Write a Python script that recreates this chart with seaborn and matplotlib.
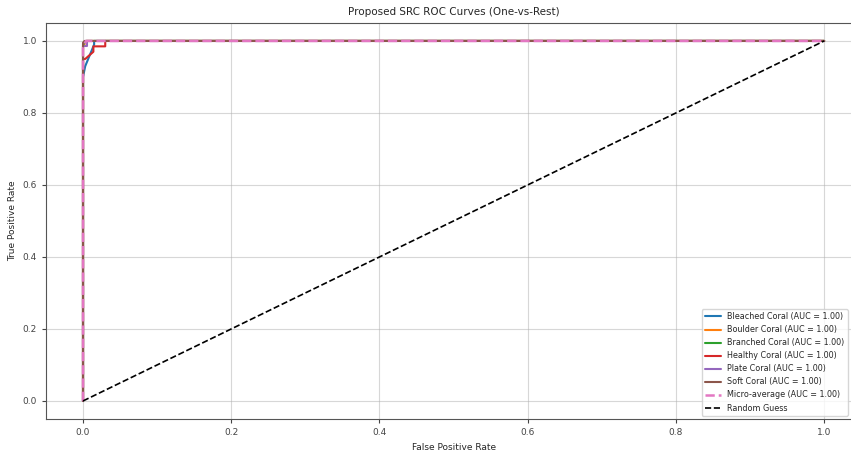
import seaborn as sns
import matplotlib.pyplot as plt
import pandas as pd

# class names and read-off roc points (fpr, tpr)
classes = ["Bleached Coral", "Boulder Coral", "Branched Coral",
           "Healthy Coral", "Plate Coral", "Soft Coral"]
auc_vals = [1.00, 1.00, 1.00, 1.00, 1.00, 1.00]

fpr_bleached = [0.0, 0.0, 0.003, 0.015, 0.015, 1.0]
tpr_bleached = [0.0, 0.90, 0.93, 0.99, 1.0, 1.0]
fpr_boulder = [0.0, 0.0, 0.005, 1.0]
tpr_boulder = [0.0, 0.985, 1.0, 1.0]
fpr_branched = [0.0, 0.0, 0.004, 1.0]
tpr_branched = [0.0, 0.99, 1.0, 1.0]
fpr_healthy = [0.0, 0.0, 0.003, 0.014, 0.014, 0.03, 0.03, 1.0]
tpr_healthy = [0.0, 0.95, 0.95, 0.97, 0.985, 0.985, 1.0, 1.0]
fpr_plate = [0.0, 0.0, 0.006, 0.006, 1.0]
tpr_plate = [0.0, 0.985, 0.985, 1.0, 1.0]
fpr_soft = [0.0, 0.0, 0.002, 1.0]
tpr_soft = [0.0, 0.995, 1.0, 1.0]
fpr_micro = [0.0, 0.0, 0.004, 1.0]
tpr_micro = [0.0, 0.98, 1.0, 1.0]
auc_micro = 1.00

fprs = [fpr_bleached, fpr_boulder, fpr_branched, fpr_healthy, fpr_plate, fpr_soft]
tprs = [tpr_bleached, tpr_boulder, tpr_branched, tpr_healthy, tpr_plate, tpr_soft]

rows = []
for c, a, f, t in zip(classes, auc_vals, fprs, tprs):
    lab = f"{c} (AUC = {a:.2f})"
    for i in range(len(f)):
        rows.append({"fpr": f[i], "tpr": t[i], "curve": lab})
roc = pd.DataFrame(rows)

sns.set_style("ticks")
plt.rcParams["font.family"] = ["DejaVu Sans"]

fig = plt.figure(figsize=(8.51, 4.5), dpi=100)
ax = fig.add_axes([0.054, 0.069, 0.958, 0.88])

sns.lineplot(data=roc, x="fpr", y="tpr", hue="curve", sort=False, estimator=None,
             palette=sns.color_palette("tab10", 6), linewidth=1.5, ax=ax)
ax.plot(fpr_micro, tpr_micro, color="#e377c2", linestyle="--", linewidth=1.8,
        label=f"Micro-average (AUC = {auc_micro:.2f})")
ax.plot([0, 1], [0, 1], "k--", linewidth=1.2, label="Random Guess")

ax.set_xlim(-0.05, 1.05)
ax.set_ylim(-0.05, 1.05)
ax.set_xticks([0, 0.2, 0.4, 0.6, 0.8, 1.0])
ax.set_yticks([0, 0.2, 0.4, 0.6, 0.8, 1.0])
ax.grid(True, color="#b0b0b0", alpha=0.5, linewidth=0.8)
ax.tick_params(labelsize=6.5, colors="#444444", length=3)
for s in ax.spines.values():
    s.set_color("#555555")
ax.set_xlabel("False Positive Rate", fontsize=6.5)
ax.set_ylabel("True Positive Rate", fontsize=6.5)
ax.set_title("Proposed SRC ROC Curves (One-vs-Rest)", fontsize=7.5)
# legend pinned to the figure's right edge so no label is cut
ax.legend(loc="lower right", fontsize=5.8, framealpha=0.8, handlelength=2,
          borderaxespad=0.4, bbox_to_anchor=(1.0, 0.069),
          bbox_transform=fig.transFigure)

fig.savefig("out.png", dpi=100)
